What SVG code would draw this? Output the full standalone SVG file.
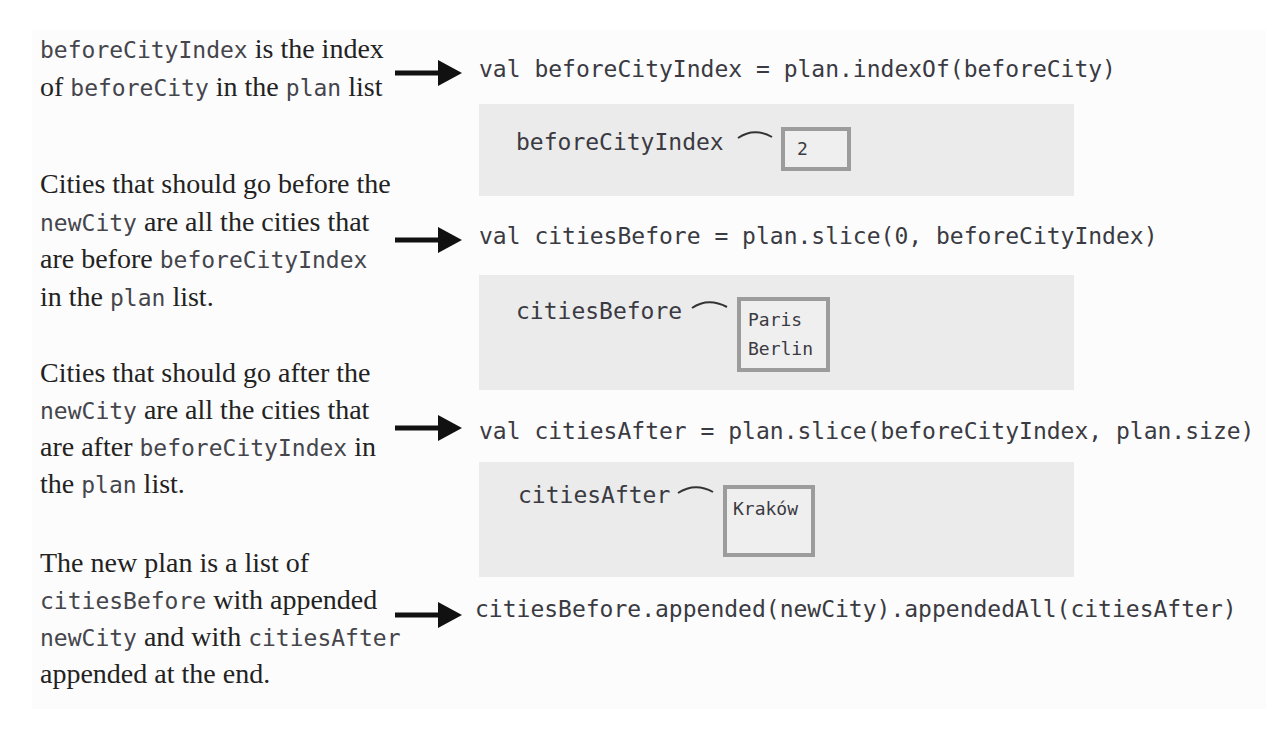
<svg xmlns="http://www.w3.org/2000/svg" width="1280" height="742" viewBox="0 0 1280 742">
<style>
.serif{font-family:"Liberation Serif","Times New Roman",serif;font-size:28px;fill:#222}
.m{font-family:"DejaVu Sans Mono","Liberation Mono",monospace;font-size:23px;fill:#45454c}
.code{font-family:"DejaVu Sans Mono","Liberation Mono",monospace;font-size:23px;fill:#3a3a42}
.val{font-family:"DejaVu Sans Mono","Liberation Mono",monospace;font-size:18px;fill:#3a3a42}
.panel{fill:#ebebeb}
.vbox{fill:#efefef;stroke:#9c9c9c;stroke-width:4}
.arc{fill:none;stroke:#333;stroke-width:2}
.conn{stroke:#111;stroke-width:5;fill:none;marker-end:url(#ah)}
</style>
<defs>
<marker id="ah" markerUnits="userSpaceOnUse" markerWidth="24" markerHeight="28" viewBox="0 0 24 28" refX="2" refY="14" orient="auto">
<path d="M0,1 L24,14 L0,27 Z" fill="#111"/>
</marker>
</defs>
<rect x="0" y="0" width="1280" height="742" fill="#ffffff"/>
<rect x="32" y="30" width="1234" height="679" fill="#fcfcfc"/>

<g id="note1">
<text class="serif" x="40" y="58"><tspan class="m">beforeCityIndex</tspan> is the index</text>
<text class="serif" x="40" y="96">of <tspan class="m">beforeCity</tspan> in the <tspan class="m">plan</tspan> list</text>
</g>
<g id="note2">
<text class="serif" x="40" y="193">Cities that should go before the</text>
<text class="serif" x="40" y="231"><tspan class="m">newCity</tspan> are all the cities that</text>
<text class="serif" x="40" y="268">are before <tspan class="m">beforeCityIndex</tspan></text>
<text class="serif" x="40" y="306">in the <tspan class="m">plan</tspan> list.</text>
</g>
<g id="note3">
<text class="serif" x="40" y="382">Cities that should go after the</text>
<text class="serif" x="40" y="419"><tspan class="m">newCity</tspan> are all the cities that</text>
<text class="serif" x="40" y="456">are after <tspan class="m">beforeCityIndex</tspan> in</text>
<text class="serif" x="40" y="493">the <tspan class="m">plan</tspan> list.</text>
</g>
<g id="note4">
<text class="serif" x="40" y="572">The new plan is a list of</text>
<text class="serif" x="40" y="609"><tspan class="m">citiesBefore</tspan> with appended</text>
<text class="serif" x="40" y="646"><tspan class="m">newCity</tspan> and with <tspan class="m">citiesAfter</tspan></text>
<text class="serif" x="40" y="683">appended at the end.</text>
</g>

<g id="code1"><text class="code" x="479" y="77">val beforeCityIndex = plan.indexOf(beforeCity)</text></g>
<g id="code2"><text class="code" x="479" y="244">val citiesBefore = plan.slice(0, beforeCityIndex)</text></g>
<g id="code3"><text class="code" x="479" y="439">val citiesAfter = plan.slice(beforeCityIndex, plan.size)</text></g>
<g id="code4"><text class="code" x="475" y="617">citiesBefore.appended(newCity).appendedAll(citiesAfter)</text></g>

<g id="state1">
<rect class="panel" x="479" y="104" width="595" height="92"/>
<text class="code" x="516" y="150">beforeCityIndex</text>
<path class="arc" d="M738,138 Q754,127 772,137"/>
<rect class="vbox" x="783" y="129" width="66" height="40"/>
<text class="val" x="797" y="155">2</text>
</g>
<g id="state2">
<rect class="panel" x="479" y="275" width="595" height="115"/>
<text class="code" x="516" y="319">citiesBefore</text>
<path class="arc" d="M692,308 Q708,297 727,307"/>
<rect class="vbox" x="739" y="299" width="89" height="71"/>
<text class="val" x="748" y="326">Paris</text>
<text class="val" x="748" y="355">Berlin</text>
</g>
<g id="state3">
<rect class="panel" x="479" y="462" width="595" height="115"/>
<text class="code" x="518" y="503">citiesAfter</text>
<path class="arc" d="M678,493 Q695,482 713,492"/>
<rect class="vbox" x="725" y="487" width="88" height="68"/>
<text class="val" x="733" y="515">Kraków</text>
</g>

<g id="connectors">
<line class="conn" x1="395" y1="73" x2="440" y2="73"/>
<line class="conn" x1="395" y1="240" x2="440" y2="240"/>
<line class="conn" x1="395" y1="428" x2="440" y2="428"/>
<line class="conn" x1="395" y1="615" x2="440" y2="615"/>
</g>
</svg>
